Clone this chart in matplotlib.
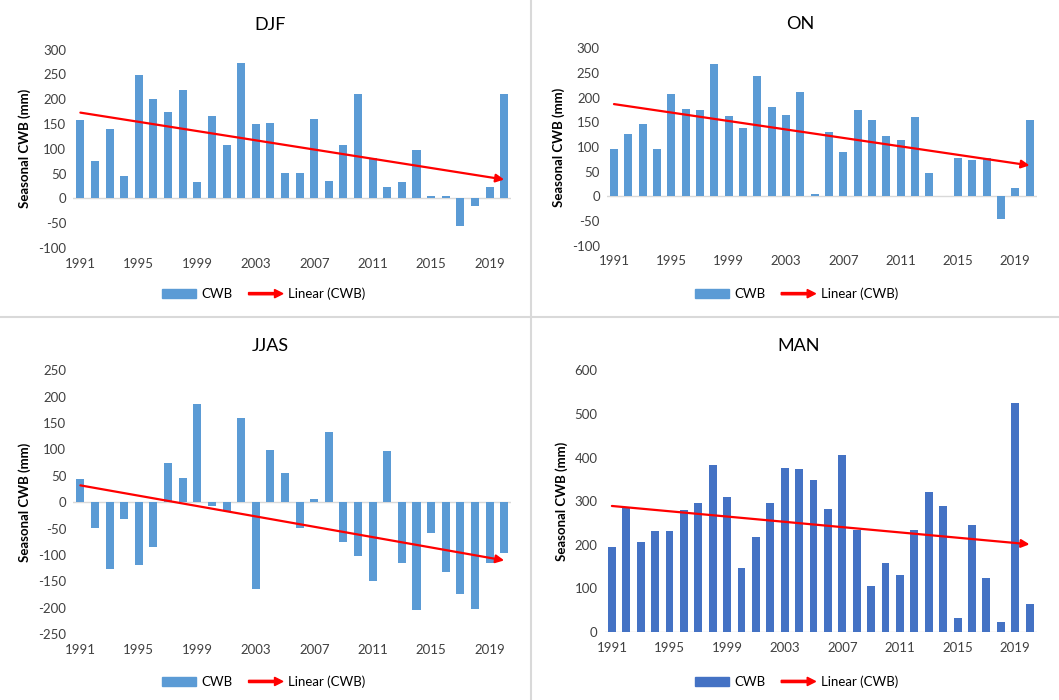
import numpy as np
import matplotlib
matplotlib.use('Agg')
import matplotlib.pyplot as plt
from matplotlib.legend_handler import HandlerBase
from matplotlib.patches import FancyArrow, Rectangle
from matplotlib.lines import Line2D

plt.rcParams['font.family'] = ['Lato', 'DejaVu Sans']
plt.rcParams['axes.unicode_minus'] = False

years = list(range(1991, 2021))
tick_years = list(range(1991, 2021, 4))

# seasonal climatic water balance (mm)
djf = [158, 76, 140, 45, 248, 201, 174, 219, 32, 167, 108, 273, 149, 152, 52,
       52, 160, 34, 108, 210, 82, 22, 32, 97, 5, 5, -56, -15, 22, 210]
on = [95, 126, 147, 95, 208, 177, 174, 269, 163, 138, 244, 182, 165, 212, 4,
      131, 90, 174, 154, 122, 115, 160, 47, 0, 77, 73, 78, -45, 16, 154]
jjas = [44, -48, -127, -31, -119, -84, 74, 46, 186, -8, -17, 160, -165, 99, 55,
        -48, 6, 133, -75, -102, -150, 97, -116, -204, -58, -133, -174, -202, -116, -96]
man = [196, 287, 206, 232, 232, 280, 295, 382, 310, 148, 217, 297, 376, 373, 348,
       282, 405, 235, 105, 159, 131, 235, 322, 288, 32, 245, 123, 23, 525, 65]

panels = [
    # title, values, ylim, ystep, bar colour, axes rect, legend anchor
    ('DJF', djf, (-100, 300), 50, '#5B9BD5', [0.069, 0.646, 0.414, 0.283], (0.249, 0.58)),
    ('ON', on, (-100, 300), 50, '#5B9BD5', [0.573, 0.649, 0.406, 0.282], (0.752, 0.58)),
    ('JJAS', jjas, (-250, 250), 50, '#5B9BD5', [0.069, 0.094, 0.414, 0.377], (0.249, 0.026)),
    ('MAN', man, (0, 600), 100, '#4472C4', [0.571, 0.097, 0.408, 0.374], (0.752, 0.026)),
]


class ArrowHandler(HandlerBase):
    def create_artists(self, legend, orig_handle, xdescent, ydescent,
                       width, height, fontsize, trans):
        a = FancyArrow(-xdescent, height / 2 - ydescent, width, 0,
                       width=1.6, head_width=6, head_length=6,
                       length_includes_head=True, color='red', transform=trans)
        return [a]


fig = plt.figure(figsize=(10.59, 7), dpi=100)

for title, vals, ylim, ystep, color, rect, leg_pos in panels:
    ax = fig.add_axes(rect)
    x = np.array(years)
    v = np.array(vals)
    ax.bar(x, v, width=0.55, color=color, zorder=2)
    ax.axhline(0, color='#D9D9D9', lw=1, zorder=1)

    # linear trend of the series, drawn as an arrow
    slope, inter = np.polyfit(x, v, 1)
    ax.annotate('', xy=(x[-1], slope * x[-1] + inter),
                xytext=(x[0], slope * x[0] + inter),
                arrowprops=dict(arrowstyle='-|>', color='red', lw=1.6,
                                mutation_scale=12, shrinkA=0, shrinkB=0),
                zorder=3)

    ax.set_xlim(1990.5, 2020.5)
    ax.set_ylim(*ylim)
    ax.set_xticks(tick_years)
    ax.set_yticks(np.arange(ylim[0], ylim[1] + 1, ystep))
    ax.tick_params(length=0, labelsize=9.5, colors='#404040')
    ax.tick_params(axis='x', pad=7)
    ax.tick_params(axis='y', pad=5)
    for s in ax.spines.values():
        s.set_visible(False)
    ax.set_ylabel('Seasonal CWB (mm)', fontsize=9.5, fontweight='bold', labelpad=5)
    ax.set_title(title, fontsize=13, pad=14, x=0.45)

    handles = [Rectangle((0, 0), 1, 1, color=color), Line2D([], [])]
    fig.legend(handles, ['CWB', 'Linear (CWB)'], loc='center',
               bbox_to_anchor=leg_pos, ncol=2, frameon=False, fontsize=9.5,
               handler_map={Line2D: ArrowHandler()}, handlelength=2.6,
               columnspacing=1.2, handletextpad=0.4)

# panel borders
fig.add_artist(Line2D([0.5014, 0.5014], [0, 1], color='#D9D9D9', lw=1.5))
fig.add_artist(Line2D([0, 1], [0.547, 0.547], color='#D9D9D9', lw=1.5))

fig.savefig('out.png', dpi=100, facecolor='white')
